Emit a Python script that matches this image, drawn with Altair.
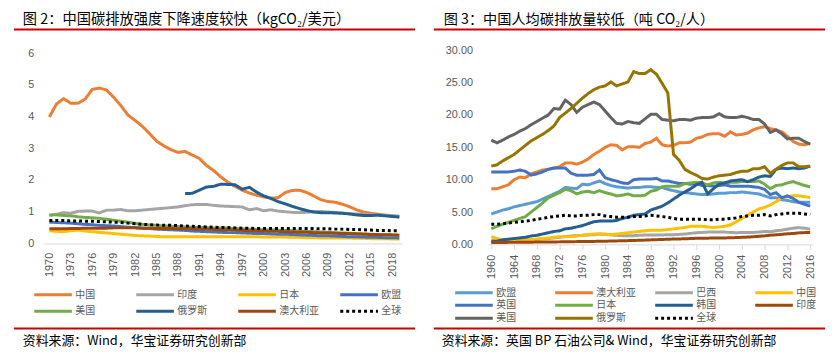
import altair as alt
import pandas as pd

CJK = "Noto Sans CJK SC"
NUM = "Liberation Sans"
AXC = "#595959"

# ---------------- left panel: carbon intensity (kgCO2 / USD) ----------------
years_l = list(range(1970, 2020))
names_l = ["中国", "印度", "日本", "欧盟", "美国", "俄罗斯", "澳大利亚", "全球"]
colors_l = ["#ED7D31", "#A5A5A5", "#FFC000", "#4472C4", "#70AD47", "#255E91", "#9E480E", "#000000"]

china_l = [3.99, 4.40, 4.57, 4.42, 4.42, 4.55, 4.86, 4.90, 4.84, 4.61,
           4.35, 4.05, 3.88, 3.70, 3.47, 3.23, 3.08, 2.96, 2.87, 2.90,
           2.79, 2.68, 2.46, 2.30, 2.10, 1.93, 1.80, 1.68, 1.59, 1.52,
           1.47, 1.43, 1.44, 1.60, 1.67, 1.68, 1.61, 1.50, 1.38, 1.32,
           1.30, 1.24, 1.16, 1.06, 0.99, 0.95, 0.92, 0.89, 0.86, 0.84]
india_l = [0.88, 0.92, 0.97, 0.95, 1.01, 1.02, 1.02, 0.96, 1.05, 1.05,
           1.07, 1.03, 1.03, 1.05, 1.07, 1.09, 1.11, 1.13, 1.15, 1.19,
           1.22, 1.23, 1.23, 1.20, 1.18, 1.17, 1.16, 1.15, 1.06, 1.10,
           1.03, 1.06, 1.02, 1.00, 0.98, 0.97, 0.98, 1.00, 1.01, 0.99,
           0.98, 0.96, 0.94, 0.93, 0.92, 0.91, 0.90, 0.89, 0.88, 0.86]
japan_l = [0.40, 0.38, 0.37, 0.40, 0.42, 0.39, 0.37, 0.35, 0.33, 0.31,
           0.29, 0.27, 0.25, 0.24, 0.23, 0.22, 0.21, 0.21, 0.21, 0.21,
           0.21, 0.21, 0.21, 0.21, 0.21, 0.21, 0.21, 0.21, 0.21, 0.21,
           0.20, 0.20, 0.20, 0.20, 0.19, 0.19, 0.18, 0.18, 0.17, 0.17,
           0.17, 0.17, 0.17, 0.16, 0.16, 0.15, 0.15, 0.15, 0.14, 0.14]
eu_l = [0.67, 0.66, 0.65, 0.64, 0.62, 0.60, 0.59, 0.57, 0.56, 0.55,
        0.53, 0.51, 0.50, 0.48, 0.47, 0.45, 0.44, 0.43, 0.42, 0.41,
        0.39, 0.38, 0.37, 0.36, 0.35, 0.34, 0.34, 0.33, 0.32, 0.31,
        0.31, 0.30, 0.29, 0.29, 0.28, 0.27, 0.26, 0.25, 0.24, 0.24,
        0.23, 0.22, 0.21, 0.21, 0.20, 0.19, 0.19, 0.18, 0.18, 0.17]
us_l = [0.90, 0.90, 0.88, 0.87, 0.84, 0.82, 0.81, 0.79, 0.76, 0.73,
        0.70, 0.67, 0.63, 0.60, 0.58, 0.57, 0.55, 0.54, 0.53, 0.52,
        0.51, 0.50, 0.50, 0.49, 0.49, 0.48, 0.47, 0.46, 0.45, 0.44,
        0.43, 0.42, 0.42, 0.41, 0.40, 0.39, 0.38, 0.37, 0.36, 0.35,
        0.34, 0.33, 0.32, 0.31, 0.30, 0.29, 0.28, 0.27, 0.26, 0.25]
russia_l = [None] * 19 + [
        1.57, 1.58, 1.68, 1.78, 1.80, 1.87, 1.86, 1.85, 1.71, 1.77,
        1.62, 1.50, 1.42, 1.32, 1.25, 1.17, 1.10, 1.04, 0.99, 0.97,
        0.97, 0.96, 0.95, 0.93, 0.90, 0.88, 0.88, 0.89, 0.87, 0.85, 0.83]
aus_l = [0.46, 0.46, 0.46, 0.47, 0.47, 0.48, 0.48, 0.48, 0.48, 0.49,
         0.49, 0.49, 0.49, 0.48, 0.48, 0.47, 0.47, 0.47, 0.46, 0.46,
         0.46, 0.45, 0.45, 0.44, 0.43, 0.43, 0.42, 0.41, 0.40, 0.40,
         0.39, 0.38, 0.38, 0.37, 0.36, 0.35, 0.35, 0.34, 0.33, 0.33,
         0.32, 0.31, 0.31, 0.30, 0.29, 0.28, 0.28, 0.27, 0.27, 0.26]
world_l = [0.72, 0.72, 0.72, 0.71, 0.71, 0.70, 0.70, 0.69, 0.68, 0.67,
           0.66, 0.64, 0.62, 0.60, 0.59, 0.58, 0.57, 0.57, 0.56, 0.55,
           0.54, 0.53, 0.52, 0.51, 0.50, 0.50, 0.49, 0.48, 0.48, 0.47,
           0.47, 0.47, 0.47, 0.47, 0.47, 0.47, 0.47, 0.47, 0.46, 0.46,
           0.45, 0.45, 0.44, 0.44, 0.43, 0.42, 0.41, 0.41, 0.40, 0.40]
series_l = [china_l, india_l, japan_l, eu_l, us_l, russia_l, aus_l, world_l]
xticks_l = list(range(1970, 2019, 3))
yticks_l = [0, 1, 2, 3, 4, 5, 6]

# ---------------- right panel: per-capita emissions (t CO2 / person) ----------------
years_r = list(range(1960, 2017))
names_r = ["欧盟", "澳大利亚", "巴西", "中国", "英国", "日本", "韩国", "印度", "美国", "俄罗斯", "全球"]
colors_r = ["#5B9BD5", "#ED7D31", "#A5A5A5", "#FFC000", "#4472C4", "#70AD47",
            "#255E91", "#9E480E", "#636363", "#997300", "#000000"]

eu_r = [4.7, 5.0, 5.3, 5.5, 5.8, 6.0, 6.2, 6.4, 6.6, 7.0,
        7.4, 7.8, 8.2, 8.8, 8.7, 8.6, 9.3, 9.2, 9.5, 9.8,
        9.4, 9.1, 8.9, 8.8, 8.7, 8.8, 8.8, 8.9, 8.9, 8.8,
        8.8, 8.5, 8.3, 8.1, 8.0, 7.9, 7.8, 7.7, 7.7, 7.8,
        7.9, 7.9, 8.0, 8.0, 8.1, 8.0, 7.9, 7.8, 7.5, 7.2,
        7.2, 6.9, 6.8, 6.6, 6.5, 6.5, 6.5]
aus_r = [8.6, 8.6, 8.9, 9.2, 10.0, 10.4, 10.3, 10.9, 11.2, 11.5,
         11.6, 11.8, 12.0, 12.6, 12.6, 12.4, 12.7, 13.2, 13.9, 14.4,
         15.0, 15.4, 15.3, 14.6, 15.1, 15.1, 15.0, 15.6, 15.8, 16.4,
         15.4, 15.2, 15.3, 15.7, 15.7, 15.8, 16.4, 16.6, 17.0, 17.1,
         17.1, 16.7, 17.4, 16.9, 17.0, 17.2, 17.7, 18.0, 18.2, 17.9,
         17.7, 17.4, 16.7, 15.9, 15.5, 15.4, 15.6]
brazil_r = [0.6, 0.6, 0.65, 0.65, 0.65, 0.65, 0.7, 0.7, 0.8, 0.85,
            0.9, 1.0, 1.1, 1.2, 1.3, 1.35, 1.4, 1.45, 1.5, 1.6,
            1.55, 1.45, 1.4, 1.35, 1.35, 1.35, 1.4, 1.45, 1.45, 1.45,
            1.45, 1.5, 1.5, 1.55, 1.6, 1.7, 1.8, 1.85, 1.9, 1.9,
            1.9, 1.9, 1.85, 1.8, 1.85, 1.85, 1.85, 1.9, 2.0, 1.95,
            2.1, 2.2, 2.35, 2.5, 2.6, 2.5, 2.35]
china_r = [1.2, 0.9, 0.7, 0.65, 0.65, 0.7, 0.8, 0.7, 0.8, 0.9,
           1.0, 1.1, 1.2, 1.2, 1.2, 1.3, 1.4, 1.5, 1.6, 1.6,
           1.6, 1.5, 1.6, 1.7, 1.8, 1.9, 2.0, 2.1, 2.2, 2.2,
           2.2, 2.3, 2.4, 2.5, 2.6, 2.8, 2.8, 2.8, 2.7, 2.6,
           2.7, 2.8, 3.0, 3.5, 4.0, 4.5, 5.0, 5.5, 5.7, 6.1,
           6.6, 7.2, 7.4, 7.5, 7.5, 7.4, 7.2]
uk_r = [11.2, 11.2, 11.2, 11.2, 11.3, 11.5, 11.3, 10.7, 10.9, 11.2,
        11.6, 11.8, 11.8, 11.8, 11.0, 10.7, 10.7, 10.7, 10.8, 11.5,
        10.3, 10.0, 9.8, 9.5, 9.4, 10.0, 10.1, 10.1, 10.1, 10.2,
        9.8, 9.8, 9.6, 9.4, 9.4, 9.3, 9.4, 9.1, 9.1, 9.0,
        9.1, 9.2, 9.0, 9.0, 9.0, 9.0, 8.9, 8.8, 8.5, 7.7,
        8.0, 7.2, 7.5, 7.1, 6.5, 6.2, 5.9]
japan_r = [2.4, 2.8, 3.1, 3.4, 3.7, 4.0, 4.3, 5.0, 5.7, 6.4,
           7.2, 7.6, 8.0, 8.5, 8.3, 7.8, 8.1, 8.2, 8.0, 8.3,
           8.0, 7.8, 7.5, 7.6, 7.8, 7.5, 7.5, 7.6, 8.2, 8.4,
           8.9, 9.0, 9.0, 9.0, 9.4, 9.5, 9.6, 9.5, 9.2, 9.5,
           9.6, 9.5, 9.6, 9.6, 9.7, 9.7, 9.7, 9.8, 9.3, 8.6,
           9.1, 9.2, 9.5, 9.7, 9.4, 9.1, 8.9]
korea_r = [0.4, 0.5, 0.7, 0.8, 0.9, 1.0, 1.1, 1.3, 1.4, 1.6,
           1.8, 2.0, 2.1, 2.4, 2.5, 2.7, 2.9, 3.2, 3.5, 3.6,
           3.6, 3.6, 3.7, 4.0, 4.2, 4.5, 4.6, 4.7, 5.3, 5.6,
           5.9, 6.4, 7.0, 7.6, 8.1, 8.6, 9.2, 9.6, 7.8, 8.6,
           9.3, 9.5, 9.8, 9.9, 10.0, 9.7, 10.0, 10.4, 10.6, 10.5,
           11.6, 11.8, 11.7, 11.8, 11.7, 11.8, 12.1]
india_r = [0.27, 0.28, 0.30, 0.31, 0.31, 0.33, 0.33, 0.34, 0.36, 0.36,
           0.37, 0.38, 0.39, 0.40, 0.41, 0.43, 0.44, 0.45, 0.46, 0.48,
           0.49, 0.52, 0.54, 0.56, 0.58, 0.61, 0.63, 0.66, 0.70, 0.73,
           0.76, 0.80, 0.82, 0.84, 0.87, 0.90, 0.94, 0.96, 0.96, 1.00,
           1.00, 1.00, 1.02, 1.05, 1.09, 1.13, 1.18, 1.25, 1.32, 1.42,
           1.48, 1.55, 1.64, 1.68, 1.78, 1.82, 1.86]
us_r = [16.1, 15.7, 16.1, 16.6, 17.0, 17.5, 17.9, 18.5, 19.0, 19.5,
        20.0, 21.0, 20.9, 22.3, 21.6, 20.4, 21.2, 21.6, 22.0, 21.6,
        20.6, 19.6, 18.7, 18.6, 19.0, 18.8, 18.7, 19.4, 20.1, 20.1,
        19.3, 19.2, 19.1, 19.3, 19.3, 19.2, 19.5, 19.6, 19.6, 19.7,
        20.2, 19.7, 19.6, 19.6, 19.8, 19.6, 19.3, 19.3, 18.6, 17.3,
        17.7, 17.1, 16.3, 16.4, 16.4, 15.9, 15.5]
russia_r = [12.1, 12.3, 12.9, 13.4, 13.9, 14.6, 15.3, 16.0, 16.5, 17.0,
            17.6, 18.3, 19.6, 20.3, 21.0, 21.8, 22.6, 23.3, 23.9, 24.3,
            24.5, 25.1, 24.5, 24.8, 25.1, 26.7, 26.4, 26.4, 27.0, 26.3,
            24.9, 23.4, 13.9, 13.0, 11.6, 11.1, 10.7, 10.2, 10.1, 10.4,
            10.6, 10.7, 10.8, 11.1, 11.3, 11.3, 11.7, 11.7, 12.0, 11.0,
            11.6, 12.2, 12.6, 12.6, 12.0, 12.0, 12.1]
world_r = [3.1, 3.1, 3.2, 3.3, 3.4, 3.5, 3.6, 3.7, 3.9, 4.0,
           4.2, 4.3, 4.4, 4.5, 4.4, 4.4, 4.5, 4.5, 4.6, 4.6,
           4.4, 4.3, 4.2, 4.2, 4.2, 4.3, 4.3, 4.4, 4.5, 4.4,
           4.3, 4.2, 4.0, 3.9, 3.9, 3.9, 3.9, 3.9, 3.8, 3.8,
           3.9, 3.9, 4.0, 4.1, 4.3, 4.4, 4.5, 4.5, 4.6, 4.4,
           4.6, 4.7, 4.8, 4.8, 4.8, 4.7, 4.6]
series_r = [eu_r, aus_r, brazil_r, china_r, uk_r, japan_r, korea_r, india_r, us_r, russia_r, world_r]
xticks_r = list(range(1960, 2017, 4))
yticks_r = [0, 5, 10, 15, 20, 25, 30]

title_l = "图 2：中国碳排放强度下降速度较快（kgCO₂/美元）"
title_r = "图 3：中国人均碳排放量较低（吨 CO₂/人）"
source_l = "资料来源：Wind，华宝证券研究创新部"
source_r = "资料来源：英国 BP 石油公司& Wind，华宝证券研究创新部"


def long_df(names, years, series, field):
    rows = []
    for n, vals in zip(names, series):
        for yr, v in zip(years, vals):
            if v is not None:
                rows.append({field: n, "year": yr, "value": v})
    return pd.DataFrame(rows)


def panel(names, colors, years, series, field, xdom, ydom, w, h, xticks, yticks,
          yfmt, ypad, xticks_on, title, title_size, dx_title, dx_src, src,
          rule_x1, rule_x2, legx, legy, colpad, rowpad):
    df = long_df(names, years, series, field)
    dashes = [[1, 0]] * (len(names) - 1) + [[3, 3]]
    leg = alt.Legend(orient="none", legendX=legx, legendY=legy, columns=4,
                     direction="horizontal", title=None, padding=0,
                     symbolType="M-4.75,0H4.75", symbolSize=64, symbolStrokeWidth=3,
                     labelFont=CJK, labelFontSize=10, labelColor=AXC,
                     labelOffset=17, columnPadding=colpad, rowPadding=rowpad,
                     gridAlign="all", labelLimit=80)
    lines = alt.Chart(df).mark_line(strokeWidth=3).encode(
        x=alt.X("year:Q",
                scale=alt.Scale(domain=xdom, nice=False, zero=False),
                axis=alt.Axis(values=xticks, format="d", labelAngle=270, title=None,
                              grid=False, labelFont=NUM, labelFontSize=11,
                              labelColor=AXC, domainColor="#D9D9D9",
                              ticks=xticks_on, tickSize=5, tickColor="#D9D9D9",
                              labelPadding=5 if xticks_on else 9)),
        y=alt.Y("value:Q",
                scale=alt.Scale(domain=ydom, nice=False, zero=True),
                axis=alt.Axis(values=yticks, format=yfmt, title=None, grid=False,
                              domain=False, ticks=False, labelFont=NUM,
                              labelFontSize=11, labelColor=AXC, labelPadding=ypad)),
        color=alt.Color(f"{field}:N", scale=alt.Scale(domain=names, range=colors),
                        sort=names, legend=leg),
        strokeDash=alt.StrokeDash(f"{field}:N", scale=alt.Scale(domain=names, range=dashes),
                                  sort=names, legend=leg),
    )
    one = pd.DataFrame({"t": [src], "h": [title]})
    top_rule = alt.Chart(one).mark_rule(color="#CC0000", strokeWidth=2).encode(
        x=alt.value(rule_x1), x2=alt.value(rule_x2), y=alt.value(-21))
    bot_rule = alt.Chart(one).mark_rule(color="#CC0000", strokeWidth=2).encode(
        x=alt.value(rule_x1), x2=alt.value(rule_x2), y=alt.value(281))
    src_text = alt.Chart(one).mark_text(align="left", baseline="middle", font=CJK,
                                        fontSize=13, color="#000000").encode(
        text="t:N", x=alt.value(dx_src), y=alt.value(294))
    title_text = alt.Chart(one).mark_text(align="left", baseline="middle", font=CJK,
                                          fontSize=title_size, color="#000000").encode(
        text="h:N", x=alt.value(dx_title), y=alt.value(-31))
    return alt.layer(lines, top_rule, bot_rule, src_text, title_text).properties(
        width=w, height=h)


left = panel(names_l, colors_l, years_l, series_l, "国家L", [1969.2, 2019.4],
             [0, 6.09375], 362, 195, xticks_l, yticks_l, "d", 10, False,
             title_l, 14.4, -21, -21, source_l, -30, 375, 4, 241, 15, 4)
right = panel(names_r, colors_r, years_r, series_r, "国家R", [1959.48, 2016.35],
              [0, 30], 327, 196, xticks_r, yticks_r, ".2f", 16, True,
              title_r, 14.3, -45, -47, source_r, -55, 340, -20, 239, 13, 0)

chart = alt.hconcat(left, right, spacing=17).resolve_scale(
    color="independent", strokeDash="independent", x="independent", y="independent"
).resolve_legend(color="independent", strokeDash="independent").properties(
    padding={"left": 5, "top": 2, "right": 5, "bottom": 5}
).configure_view(stroke=None)

chart.save("out.html", embed_options={"renderer": "svg", "actions": False})
